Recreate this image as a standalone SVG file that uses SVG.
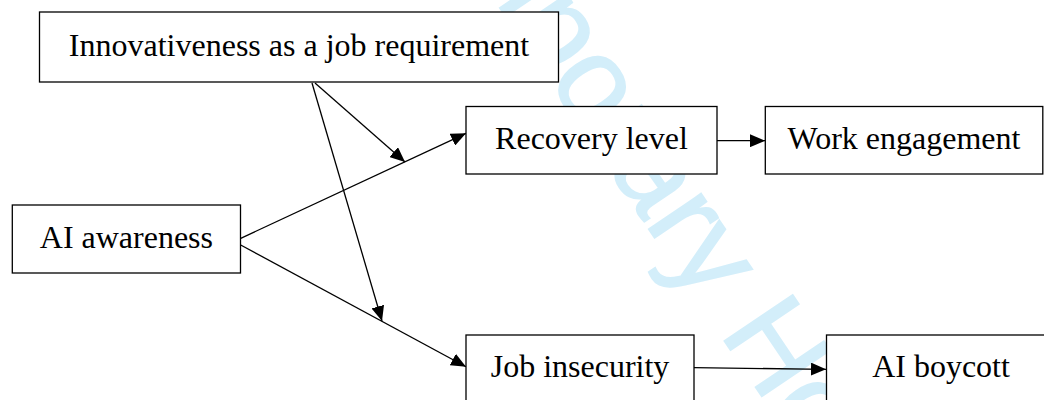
<svg xmlns="http://www.w3.org/2000/svg" width="1044" height="400" viewBox="0 0 1044 400">
<defs>
<marker id="ah" markerWidth="15" markerHeight="13" refX="15" refY="6.5" orient="auto" markerUnits="userSpaceOnUse"><path d="M0,0 L15,6.5 L0,13 Z" fill="#000"/></marker>
<style>
.box{fill:#fff;stroke:#000;stroke-width:1.3}
.lbl{font-family:"Liberation Serif","Times New Roman",serif;font-size:32px;fill:#000;text-anchor:middle}
.wm{font-family:"Liberation Sans",Arial,sans-serif;font-size:120px;fill:#d3eefa;stroke:#d3eefa;stroke-width:1.5}
.edge{stroke:#000;stroke-width:1.3;fill:none;marker-end:url(#ah)}
</style>
</defs>
<rect width="1044" height="400" fill="#fff"/>
<text class="wm" transform="translate(718.6,332.6) rotate(56)" x="-793.6" y="0">Contemporary Hospitality</text>
<g id="connectors">
<path class="edge" d="M240.7,238.3 L466,133.3"/>
<path class="edge" d="M240.7,245 L466,366.7"/>
<path class="edge" d="M315,83 L405,162"/>
<path class="edge" d="M312,83 L382,321"/>
<path class="edge" d="M717,140.7 L765,140.7"/>
<path class="edge" d="M694,367.7 L826,369.3"/>
</g>
<g id="innovativeness"><rect class="box" x="39.5" y="12" width="519" height="70"/><text class="lbl" x="299" y="56">Innovativeness as a job requirement</text></g>
<g id="recovery"><rect class="box" x="466" y="106.5" width="251" height="67.5"/><text class="lbl" x="591.5" y="148.5">Recovery level</text></g>
<g id="work"><rect class="box" x="765.3" y="106.5" width="277.5" height="67.5"/><text class="lbl" x="904" y="148.5">Work engagement</text></g>
<g id="awareness"><rect class="box" x="12.3" y="205" width="228.2" height="68"/><text class="lbl" x="126.4" y="248">AI awareness</text></g>
<g id="insecurity"><rect class="box" x="466" y="335" width="228" height="68"/><text class="lbl" x="580" y="377">Job insecurity</text></g>
<g id="boycott"><rect class="box" x="826.5" y="335" width="230" height="68"/><text class="lbl" x="941" y="377">AI boycott</text></g>
</svg>
